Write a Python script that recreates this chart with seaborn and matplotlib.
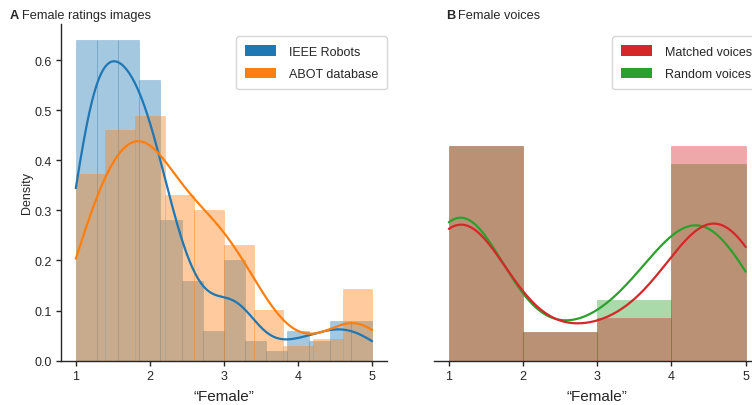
import numpy as np
import matplotlib
matplotlib.use("Agg")
import matplotlib.pyplot as plt
from matplotlib.colors import to_rgba
from matplotlib.patches import Patch
import seaborn as sns

# ---- ratings data (value, number of items with that value) ----
ieee_values = [1.0, 1.1, 1.2, 1.3, 1.4, 1.5, 1.6, 1.7, 1.8, 1.9, 2.0, 2.1,
               2.2, 2.3, 2.4, 2.5, 2.6, 2.7, 2.8, 2.9, 3.1, 3.2, 3.3, 3.5,
               3.7, 3.9, 4.0, 4.1, 4.3, 4.5, 4.6, 4.8, 5.0]
ieee_counts = [6, 13, 13, 11, 11, 10, 11, 11, 10, 10, 10, 8,
               6, 5, 3, 3, 3, 2, 1, 2, 5, 5, 1, 1,
               1, 1, 1, 1, 2, 2, 2, 2, 2]

abot_values = [1.0, 1.1, 1.2, 1.3, 1.5, 1.6, 1.7, 1.9, 2.0, 2.1, 2.3, 2.4,
               2.5, 2.7, 2.8, 2.9, 3.1, 3.2, 3.3, 3.5, 3.6, 3.7, 3.9, 4.1,
               4.3, 4.4, 4.5, 4.7, 4.8, 4.9, 5.0]
abot_counts = [5, 7, 7, 7, 11, 11, 10, 12, 12, 10, 8, 8,
               7, 7, 7, 7, 6, 5, 5, 3, 2, 2, 1, 1,
               1, 1, 1, 3, 3, 2, 2]

matched_values = [1.0, 1.2, 1.4, 1.6, 2.1, 2.3, 2.4, 2.5, 2.6, 2.7, 2.8, 2.9,
                  3.1, 3.2, 3.3, 3.4, 3.5, 3.6, 3.7, 3.8, 3.9,
                  4.2, 4.4, 4.6, 4.8, 5.0]
matched_counts = [30, 18, 8, 4, 1, 1, 1, 1, 1, 1, 1, 1,
                  1, 1, 1, 1, 2, 2, 1, 1, 2,
                  6, 12, 18, 14, 10]

random_values = [1.0, 1.2, 1.4, 1.6, 2.1, 2.3, 2.4, 2.5, 2.6, 2.7, 2.8, 2.9,
                 3.1, 3.2, 3.3, 3.4, 3.5, 3.6, 3.7, 3.8, 3.9,
                 4.0, 4.2, 4.4, 4.6, 4.8, 5.0]
random_counts = [30, 18, 8, 4, 1, 1, 1, 1, 1, 1, 1, 1,
                 1, 1, 2, 2, 2, 2, 2, 3, 2,
                 8, 10, 11, 12, 9, 5]

ieee = np.repeat(ieee_values, ieee_counts)
abot = np.repeat(abot_values, abot_counts)
matched = np.repeat(matched_values, matched_counts)
random_v = np.repeat(random_values, random_counts)

BLUE, ORANGE, RED, GREEN = "#1f77b4", "#ff7f0e", "#d62728", "#2ca02c"
x_ticks = [1, 2, 3, 4, 5]
y_ticks = [0.0, 0.1, 0.2, 0.3, 0.4, 0.5, 0.6]

sns.set_style("ticks")
plt.rcParams["font.family"] = ["Liberation Sans", "DejaVu Sans"]
plt.rcParams.update({
    "axes.edgecolor": "#262626",
    "axes.linewidth": 1.0,
    "text.color": "#262626",
    "axes.labelcolor": "#262626",
    "xtick.color": "#262626",
    "ytick.color": "#262626",
})

fig = plt.figure(figsize=(7.52, 4.06), dpi=100)
ax1 = fig.add_axes([0.0811, 0.1092, 0.4335, 0.8292])
ax2 = fig.add_axes([0.5771, 0.1092, 0.4342, 0.8292], sharey=ax1)


def hist(data, color, ax, bins, binrange=None, bw_adjust=1.0):
    sns.histplot(x=data, bins=bins, binrange=binrange, stat="density",
                 kde=True, kde_kws={"bw_adjust": bw_adjust},
                 color=color, alpha=0.4, linewidth=0.4,
                 edgecolor=to_rgba(color, 0.4),
                 line_kws={"lw": 1.6}, ax=ax)


# Panel A: image ratings
hist(ieee, BLUE, ax1, bins=14, binrange=(1, 5), bw_adjust=0.85)
hist(abot, ORANGE, ax1, bins=10, binrange=(1, 5))

# Panel B: voice ratings
hist(random_v, GREEN, ax2, bins=[1, 2, 3, 4, 5])
hist(matched, RED, ax2, bins=[1, 2, 3, 4, 5])

for ax in (ax1, ax2):
    ax.set_xlim(0.8, 5.2)
    ax.set_xticks(x_ticks)
    ax.set_xticklabels([str(t) for t in x_ticks])
    ax.set_xlabel("\u201cFemale\u201d", fontsize=11, labelpad=5)
    ax.tick_params(length=3.5, width=1.0, labelsize=9, pad=3)
    for s in ("top", "right"):
        ax.spines[s].set_visible(False)

ax1.set_ylim(0, 0.672)
ax1.set_yticks(y_ticks)
ax1.set_yticklabels([f"{t:.1f}" for t in y_ticks])
ax1.set_ylabel("Density", fontsize=9, labelpad=1.5)

ax2.spines["left"].set_visible(False)
ax2.tick_params(axis="y", left=False, labelleft=False)
ax2.set_ylabel("")

leg_kws = dict(loc="upper right", bbox_to_anchor=(1.0, 0.964), borderaxespad=0,
               fontsize=9, handlelength=2.5, handleheight=0.95,
               handletextpad=1.0, labelspacing=0.8, borderpad=0.7,
               frameon=True)
ax1.legend(handles=[Patch(facecolor=BLUE, edgecolor="none", label="IEEE Robots"),
                    Patch(facecolor=ORANGE, edgecolor="none", label="ABOT database")],
           **leg_kws)
ax2.legend(handles=[Patch(facecolor=RED, edgecolor="none", label="Matched voices"),
                    Patch(facecolor=GREEN, edgecolor="none", label="Random voices")],
           **leg_kws)

ty = 1 - 19 / 406
fig.text(10 / 752, ty, "A", fontsize=9.2, fontweight="bold", va="baseline")
fig.text(22 / 752, ty, "Female ratings images", fontsize=9.2, va="baseline")
fig.text(445.7 / 752, ty, "B", fontsize=9.2, fontweight="bold", va="baseline")
fig.text(458.3 / 752, ty, "Female voices", fontsize=9.2, va="baseline")

fig.savefig("out.png", dpi=100)
